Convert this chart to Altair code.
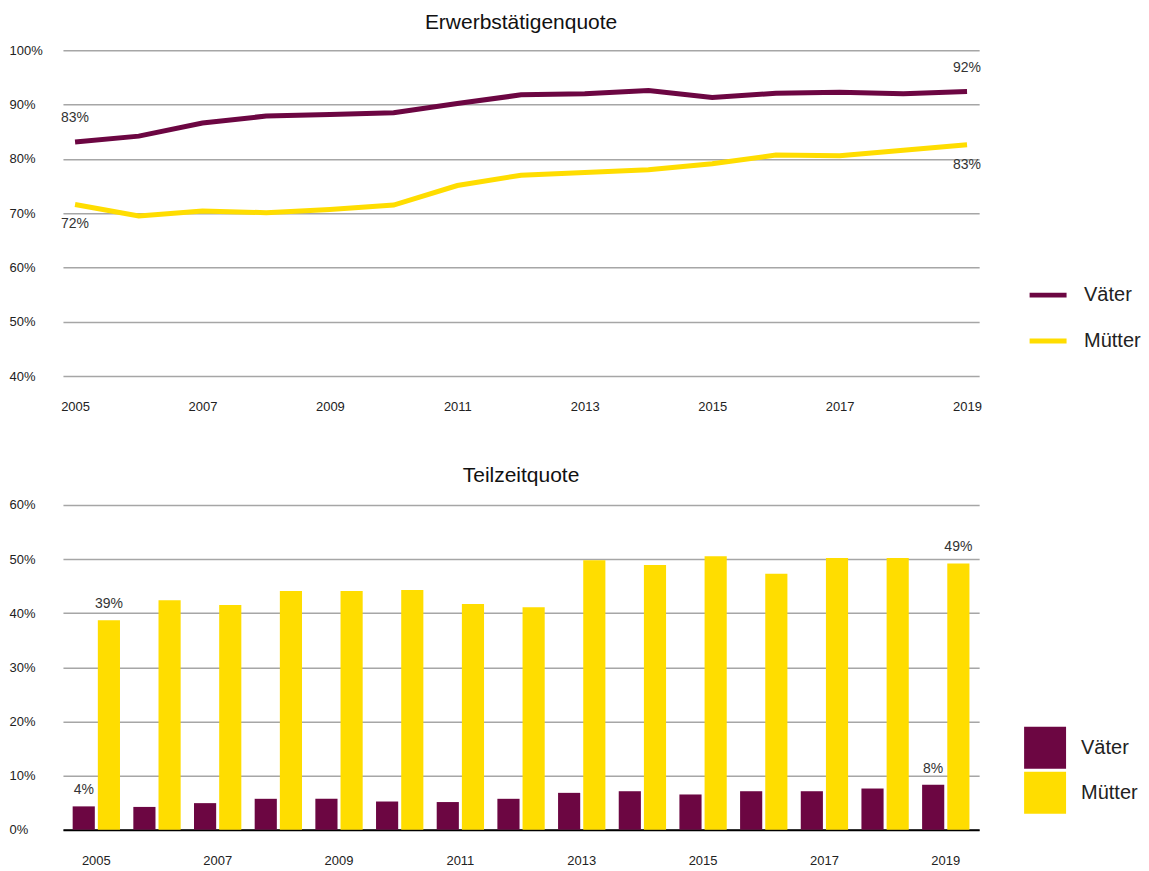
import altair as alt
import pandas as pd

years = list(range(2005, 2020))
groups = ["Väter", "Mütter"]
colors = ["#6c0642", "#ffdd00"]

erwerb_vaeter = [83.1, 84.2, 86.6, 87.9, 88.2, 88.5, 90.2, 91.8, 92.0, 92.6, 91.3, 92.1, 92.3, 92.0, 92.4]
erwerb_muetter = [71.6, 69.5, 70.4, 70.1, 70.7, 71.5, 75.1, 77.0, 77.5, 78.0, 79.1, 80.7, 80.6, 81.6, 82.6]
teilzeit_vaeter = [4.3, 4.2, 4.9, 5.7, 5.7, 5.2, 5.1, 5.7, 6.8, 7.1, 6.5, 7.1, 7.1, 7.6, 8.3]
teilzeit_muetter = [38.7, 42.4, 41.5, 44.1, 44.1, 44.3, 41.7, 41.1, 49.8, 48.9, 50.5, 47.3, 50.2, 50.2, 49.2]

tick_years = [2005, 2007, 2009, 2011, 2013, 2015, 2017, 2019]
label_years = [2005, 2019]
top_ticks = [40, 50, 60, 70, 80, 90, 100]
bottom_ticks = [0, 10, 20, 30, 40, 50, 60]


def long_df(a, b):
    rows = []
    for y, v in zip(years, a):
        rows.append({"Jahr": y, "Gruppe": groups[0], "Wert": v})
    for y, v in zip(years, b):
        rows.append({"Jahr": y, "Gruppe": groups[1], "Wert": v})
    return pd.DataFrame(rows)


df_top = long_df(erwerb_vaeter, erwerb_muetter)
df_bot = long_df(teilzeit_vaeter, teilzeit_muetter)

label_expr = "format(datum.Wert, '.0f') + '%'"
year_filter = alt.FieldOneOfPredicate(field="Jahr", oneOf=label_years)

y_axis_common = dict(
    title=None, labelExpr="datum.value + '%'", labelAlign="left", labelPadding=54,
    ticks=False, domain=False, grid=True, gridColor="#a6a6a6", gridWidth=1.5,
    labelFontSize=13, labelColor="#222222",
)

# ---------- top chart ----------
x_top = alt.X("Jahr:O", scale=alt.Scale(type="point", padding=0.19),
              axis=alt.Axis(values=tick_years, title=None, labelAngle=0, domain=False,
                            ticks=False, labelPadding=24, labelFontSize=13,
                            labelColor="#222222", grid=False))
y_top = alt.Y("Wert:Q", scale=alt.Scale(domain=[40, 100], nice=False),
              axis=alt.Axis(values=top_ticks, **y_axis_common))

base_top = alt.Chart(df_top).encode(x=x_top, y=y_top)

lines = base_top.mark_line(strokeWidth=5).encode(
    color=alt.Color("Gruppe:N", scale=alt.Scale(domain=groups, range=colors),
                    legend=alt.Legend(title=None, orient="none", legendX=965, legendY=224,
                                      padding=0, symbolType="stroke", symbolStrokeWidth=5,
                                      symbolSize=1369, labelFontSize=20, labelOffset=15,
                                      rowPadding=15, labelColor="#222222"))
)
txt_v_top = base_top.mark_text(dy=-24, fontSize=14, color="#333333").transform_filter(
    year_filter).transform_filter(alt.datum.Gruppe == groups[0]).transform_calculate(
    Label=label_expr).encode(text="Label:N")
txt_m_top = base_top.mark_text(dy=20, fontSize=14, color="#333333").transform_filter(
    year_filter).transform_filter(alt.datum.Gruppe == groups[1]).transform_calculate(
    Label=label_expr).encode(text="Label:N")

top = alt.layer(lines, txt_v_top, txt_m_top).properties(
    width=917, height=326,
    title=alt.TitleParams("Erwerbstätigenquote", fontSize=21, fontWeight="normal",
                          anchor="middle", frame="group", offset=11, color="#111111"),
)

# ---------- bottom chart ----------
x_bot = alt.X("Jahr:O", scale=alt.Scale(paddingInner=0.22, paddingOuter=0.16),
              axis=alt.Axis(values=tick_years, title=None, labelAngle=0, domain=True,
                            domainColor="#000000", domainWidth=2, ticks=False,
                            labelPadding=25, labelFontSize=13, labelColor="#222222",
                            grid=False))
y_bot = alt.Y("Wert:Q", scale=alt.Scale(domain=[0, 60], nice=False),
              axis=alt.Axis(values=bottom_ticks, **y_axis_common))
xoff = alt.XOffset("Gruppe:N", scale=alt.Scale(domain=groups, paddingInner=0.12))

base_bot = alt.Chart(df_bot).encode(x=x_bot, y=y_bot, xOffset=xoff)

bars = base_bot.mark_bar().encode(
    color=alt.Color("Gruppe:N", scale=alt.Scale(domain=groups, range=colors),
                    legend=alt.Legend(title=None, orient="none", legendX=962, legendY=222,
                                      padding=0, symbolType="square", symbolSize=1764,
                                      symbolStrokeWidth=0, labelFontSize=20,
                                      labelOffset=15, rowPadding=3,
                                      labelColor="#222222"))
)
txt_bot = base_bot.mark_text(dy=-16, fontSize=14, color="#333333").transform_filter(
    year_filter).transform_calculate(Label=label_expr).encode(text="Label:N")

bottom = alt.layer(bars, txt_bot).properties(
    width=917, height=325,
    title=alt.TitleParams("Teilzeitquote", fontSize=21, fontWeight="normal",
                          anchor="middle", frame="group", offset=13, color="#111111"),
)

chart = alt.vconcat(top, bottom, spacing=52).resolve_scale(
    color="independent", x="independent", y="independent", xOffset="independent"
).resolve_legend(color="independent").properties(
    padding={"left": 1, "top": 4, "right": 0, "bottom": 0}
).configure(font="Liberation Sans").configure_view(stroke=None)

chart.save("out.html", embed_options={"renderer": "svg", "actions": False})
